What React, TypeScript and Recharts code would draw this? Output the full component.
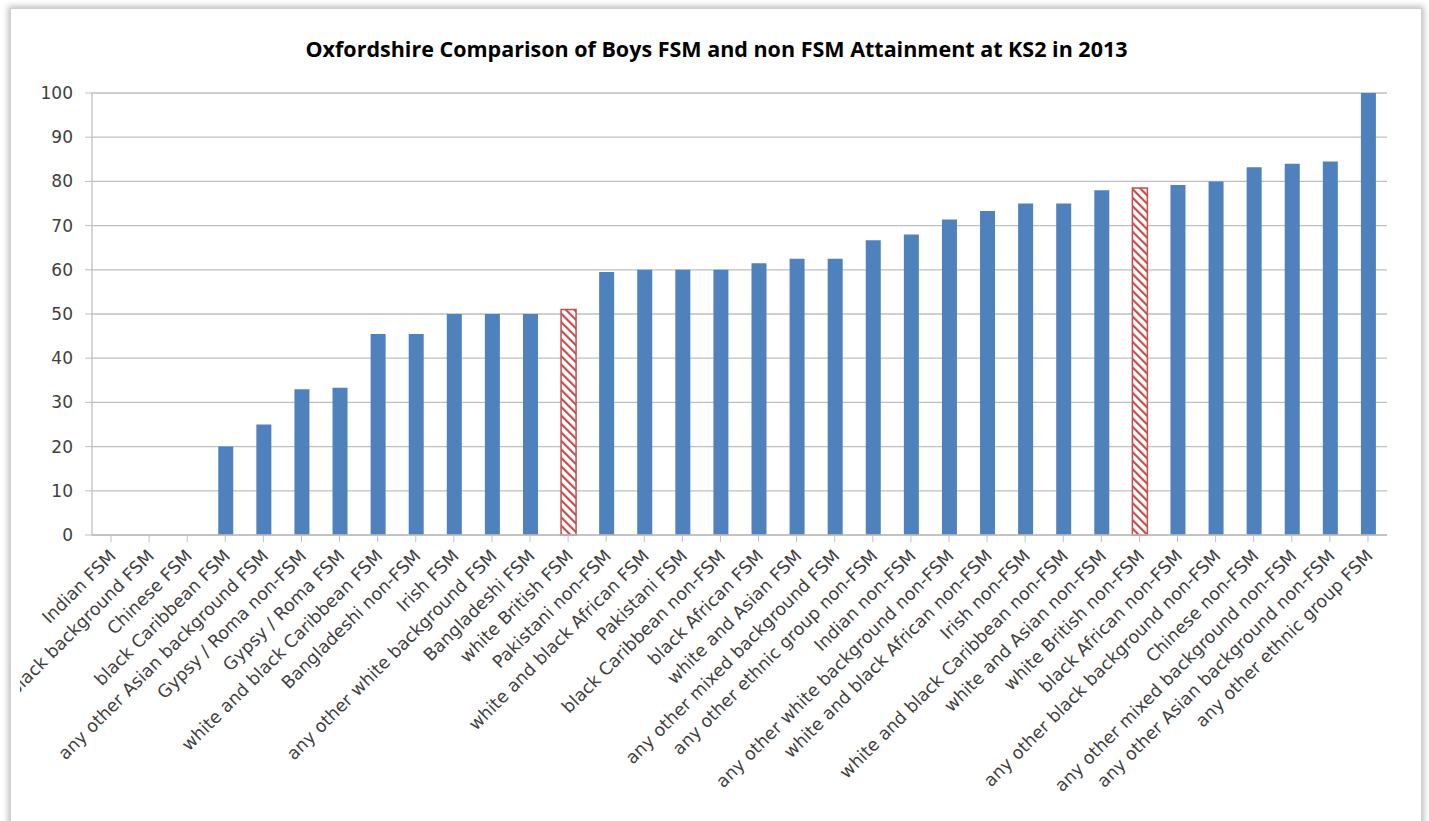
import { BarChart, Bar, XAxis, YAxis, CartesianGrid, Cell } from 'recharts';

const categories = [
  'Indian FSM',
  'any other black background FSM',
  'Chinese FSM',
  'black Caribbean FSM',
  'any other Asian background FSM',
  'Gypsy / Roma non-FSM',
  'Gypsy / Roma FSM',
  'white and black Caribbean FSM',
  'Bangladeshi non-FSM',
  'Irish FSM',
  'any other white background FSM',
  'Bangladeshi FSM',
  'white British FSM',
  'Pakistani non-FSM',
  'white and black African FSM',
  'Pakistani FSM',
  'black Caribbean non-FSM',
  'black African FSM',
  'white and Asian FSM',
  'any other mixed background FSM',
  'any other ethnic group non-FSM',
  'Indian non-FSM',
  'any other white background non-FSM',
  'white and black African non-FSM',
  'Irish non-FSM',
  'white and black Caribbean non-FSM',
  'white and Asian non-FSM',
  'white British non-FSM',
  'black African non-FSM',
  'any other black background non-FSM',
  'Chinese non-FSM',
  'any other mixed background non-FSM',
  'any other Asian background non-FSM',
  'any other ethnic group FSM',
];

const attainment = [
  0, 0, 0, 20, 25, 33, 33.3, 45.5, 45.5, 50, 50, 50, 51, 59.5, 60, 60, 60, 61.5, 62.5, 62.5,
  66.7, 68, 71.4, 73.3, 75, 75, 78, 78.5, 79.2, 80, 83.2, 84, 84.5, 100,
];

// white British bars are highlighted with a hatch
const highlighted = ['white British FSM', 'white British non-FSM'];

const yTicks = [0, 10, 20, 30, 40, 50, 60, 70, 80, 90, 100];

const data = categories.map((name, i) => ({ name, value: attainment[i] }));

const FONT = '"DejaVu Sans", Verdana, sans-serif';
const CLIP_LEFT = 20; // the chart area clips long labels a little inside the frame

function CategoryTick({ x, y, payload }: any) {
  return (
    <text
      x={x + 6}
      y={y + 13}
      transform={`rotate(-45, ${x + 6}, ${y + 13})`}
      textAnchor="end"
      fontSize={17.5}
      fontFamily={FONT}
      fill="#404040"
    >
      {payload.value}
    </text>
  );
}

export default function App() {
  return (
    <div style={{ position: 'absolute', left: 0, top: 0, width: 1429, height: 821, overflow: 'hidden', background: '#fff' }}>
      <div
        style={{
          position: 'absolute',
          left: 10,
          top: 8,
          width: 1410,
          height: 840,
          border: '1px solid #d0d0d0',
          boxShadow: '0 0 6px 2px rgba(0,0,0,0.25)',
          background: '#fff',
        }}
      />
      <div
        style={{
          position: 'absolute',
          left: 0,
          width: 1429,
          top: 34,
          textAlign: 'center',
          fontFamily: '"Open Sans", sans-serif',
          fontWeight: 700,
          fontSize: 21.5,
          color: '#000',
          paddingLeft: 2,
        }}
      >
        Oxfordshire Comparison of Boys FSM and non FSM Attainment at KS2 in 2013
      </div>
      <div style={{ position: 'absolute', left: CLIP_LEFT, top: 0, width: 1429 - CLIP_LEFT, height: 821, overflow: 'hidden' }}>
        <div style={{ position: 'absolute', left: -CLIP_LEFT, top: 0 }}>
          <BarChart width={1429} height={821} data={data} margin={{ top: 93, right: 42, bottom: 0, left: 31 }}>
            <defs>
              <pattern id="hatch" patternUnits="userSpaceOnUse" width="6" height="6" patternTransform="rotate(-45)">
                <rect width="6" height="6" fill="#fff" />
                <rect width="2.2" height="6" fill="#c0504d" />
              </pattern>
            </defs>
            <CartesianGrid vertical={false} stroke="#bfbfbf" strokeWidth={1.3} />
            <XAxis
              dataKey="name"
              interval={0}
              height={286}
              tick={<CategoryTick />}
              tickSize={7}
              axisLine={{ stroke: '#bfbfbf', strokeWidth: 1.3 }}
              tickLine={{ stroke: '#bfbfbf' }}
            />
            <YAxis
              domain={[0, 100]}
              ticks={yTicks}
              width={61}
              tickSize={7}
              axisLine={{ stroke: '#bfbfbf', strokeWidth: 1.3 }}
              tickLine={{ stroke: '#bfbfbf' }}
              tick={{ fontSize: 17, fontFamily: FONT, fill: '#404040', dx: -10 }}
            />
            <Bar dataKey="value" isAnimationActive={false} barSize={15}>
              {data.map((d) =>
                highlighted.includes(d.name) ? (
                  <Cell key={d.name} fill="url(#hatch)" stroke="#c0504d" strokeWidth={1.5} />
                ) : (
                  <Cell key={d.name} fill="#4f81bd" />
                ),
              )}
            </Bar>
          </BarChart>
        </div>
      </div>
    </div>
  );
}
